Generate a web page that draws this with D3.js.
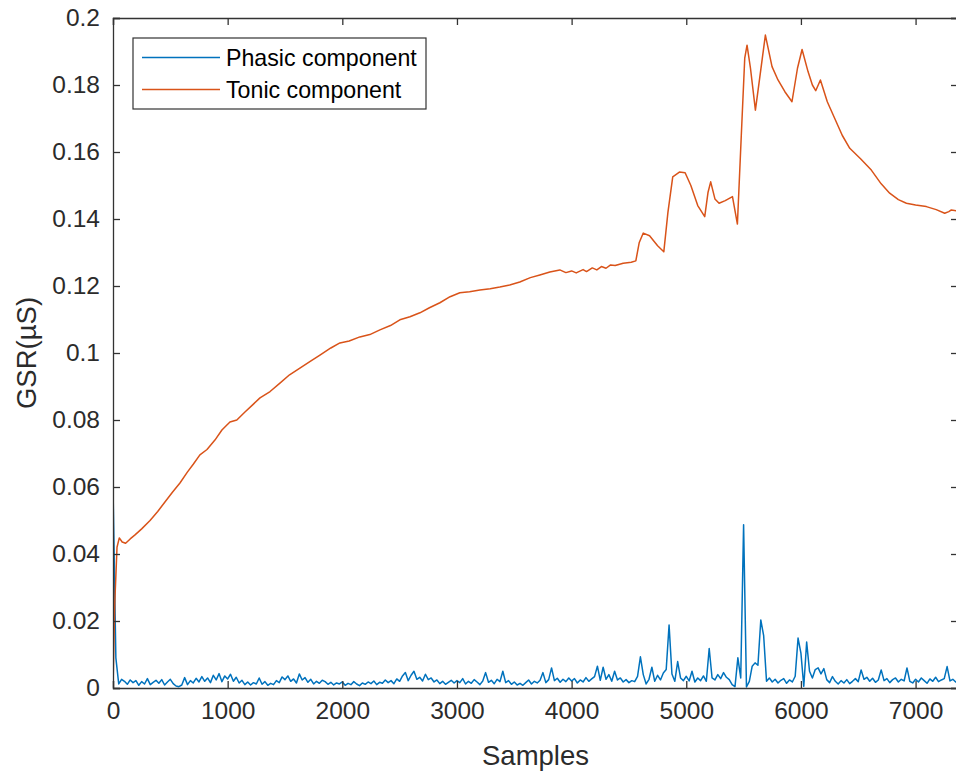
<!DOCTYPE html>
<html>
<head>
<meta charset="utf-8">
<script src="https://cdn.jsdelivr.net/npm/d3@7"></script>
<style>
  body { margin: 0; background: #fff; }
  svg { display: block; font-family: "Liberation Sans", Arial, sans-serif; }
</style>
</head>
<body>
<div id="chart"></div>
<script>
// phasic component, one value every 25 samples, in thousandths of a µS
const phasicStep = 25;
const phasicMilli = [
  60, 9, 1.2, 2.6, 2.0, 1.1, 2.4, 1.6, 2.2, 0.8, 1.9, 1.2, 2.8, 1.0, 1.7, 2.3, 1.4, 2.5, 0.9, 1.8,
  2.6, 1.3, 0.6, 0.4, 0.9, 3.1, 1.0, 2.2, 1.5, 2.9, 1.8, 3.4, 2.0, 3.0, 1.6, 3.8, 2.4, 4.3, 1.9, 3.6,
  2.7, 4.1, 2.0, 3.2, 1.5, 2.3, 1.0, 1.8, 0.9, 1.6, 1.2, 3.0, 1.1, 1.9, 0.8, 1.4, 1.0, 2.2, 1.6, 3.3,
  2.5, 3.6, 2.0, 2.7, 1.5, 4.2, 2.4, 3.1, 1.7, 2.6, 1.2, 2.0, 1.4, 2.3, 1.9, 1.1, 1.7, 0.9, 1.5, 1.2,
  1.8, 0.8, 1.4, 1.0, 1.9, 1.2, 0.7, 1.5, 1.1, 1.8, 1.3, 2.1, 1.0, 1.7, 1.4, 2.4, 1.6, 2.2, 1.3, 2.7,
  2.0, 3.6, 4.6, 2.2, 3.8, 5.0, 2.6, 3.2, 2.1, 4.1, 2.5, 3.0, 1.8, 2.4, 1.3, 2.0, 1.1, 1.7, 2.3, 1.5,
  2.2, 1.6, 2.8, 1.2, 2.0, 1.4, 2.5, 1.8, 1.0, 2.1, 4.6, 1.7, 2.3, 1.3, 2.6, 1.9, 5.0, 1.6, 2.2, 1.1,
  1.8, 0.9, 1.4, 0.8, 1.6, 2.4, 1.2, 2.0, 1.5, 2.3, 4.6, 1.6, 2.5, 6.0, 2.2, 2.9, 1.7, 2.6, 1.9, 3.0,
  2.1, 2.8, 1.5, 2.4, 1.8, 3.1, 2.0, 2.7, 3.4, 6.5, 2.3, 6.2, 2.6, 4.0, 2.0, 5.0, 2.4, 3.0, 1.8, 2.5,
  1.6, 2.2, 1.9, 3.5, 9.3, 4.0, 1.2, 2.6, 6.2, 2.0, 3.8, 2.4, 4.5, 5.5, 18.8, 4.2, 2.0, 7.9, 3.0, 2.2,
  3.5, 2.1, 5.0, 1.8, 3.0, 2.2, 3.6, 2.0, 11.8, 3.0, 2.4, 4.0, 2.8, 4.6, 3.2, 2.5, 1.0, 0.4, 9.0, 3.0,
  48.7, 0.3, 2.0, 6.5, 7.5, 6.8, 20.3, 15.6, 2.0, 3.0, 1.8, 2.6, 1.5, 2.3, 2.8, 1.4, 2.4, 1.8, 3.5, 14.9,
  10.4, 0.5, 13.7, 5.0, 3.0, 5.5, 6.0, 4.2, 5.8, 2.5, 1.6, 3.4, 2.0, 1.2, 2.2, 1.5, 2.5, 1.3, 2.0, 2.8,
  1.9, 5.4, 2.6, 3.2, 2.0, 2.9, 1.7, 2.4, 5.4, 2.2, 2.8, 1.6, 2.5, 3.0, 1.8, 2.6, 2.1, 6.0, 2.0, 1.5,
  2.6, 1.8, 3.0, 2.2, 1.4, 2.7, 2.0, 3.2, 1.9, 2.4, 2.8, 6.4, 2.1, 2.6, 1.8, 2.3
];

// tonic component, read at irregular sample positions
const tonicSamples = [
  0, 15, 35, 55, 80, 110, 150, 192, 250, 323, 390, 453, 520, 584, 650, 700, 758, 820, 889, 950,
  1020, 1080, 1151, 1220, 1282, 1370, 1456, 1540, 1630, 1720, 1805, 1900, 1979, 2060, 2153, 2240,
  2328, 2420, 2502, 2590, 2677, 2760, 2851, 2940, 3025, 3110, 3200, 3290, 3374, 3460, 3548, 3640,
  3723, 3810, 3897, 3950, 4000, 4040, 4100, 4130, 4180, 4220, 4260, 4300, 4340, 4380, 4450, 4520,
  4560, 4590, 4625, 4680, 4750, 4804, 4840, 4882, 4940, 4990, 5040, 5100, 5161, 5190, 5213, 5250,
  5286, 5340, 5403, 5446, 5480, 5510, 5530, 5560, 5603, 5640, 5690, 5748, 5800, 5860, 5922, 5970,
  6010, 6062, 6100, 6129, 6170, 6230, 6295, 6360, 6426, 6520, 6614, 6700, 6774, 6850, 6920, 7000,
  7094, 7180, 7254, 7290, 7312, 7370
];
const tonicValues = [
  0, 0.025, 0.042, 0.0448, 0.0436, 0.0432, 0.0445, 0.0457, 0.0475, 0.050, 0.0527, 0.0555, 0.0585, 0.0612, 0.0645, 0.0668, 0.0696, 0.0712, 0.0740, 0.0770,
  0.0794, 0.0800, 0.0824, 0.0846, 0.0866, 0.0885, 0.0910, 0.0935, 0.0955, 0.0975, 0.0994, 0.1015, 0.1030, 0.1036, 0.1048, 0.1055,
  0.1069, 0.1082, 0.1099, 0.1108, 0.1120, 0.1135, 0.1150, 0.1168, 0.1180, 0.1183, 0.1188, 0.1192, 0.1197, 0.1203, 0.1212, 0.1225,
  0.1233, 0.1242, 0.1248, 0.1240, 0.1245, 0.1239, 0.1249, 0.1243, 0.1254, 0.1248, 0.1258, 0.1253, 0.1263, 0.1261, 0.1268, 0.1271,
  0.1275, 0.1330, 0.1358, 0.1350, 0.1320, 0.1302, 0.1420, 0.1526, 0.1540, 0.1538, 0.1500, 0.1440, 0.1407, 0.1480, 0.1511, 0.1460,
  0.1447, 0.1455, 0.1467, 0.1385, 0.1650, 0.1880, 0.1919, 0.1850, 0.1725, 0.1820, 0.1949, 0.1855, 0.1815, 0.1780, 0.1750, 0.1850,
  0.1906, 0.1840, 0.1800, 0.1783, 0.1815, 0.1750, 0.1700, 0.1650, 0.1611, 0.1580, 0.1546, 0.1505, 0.1477, 0.1458, 0.1447, 0.1442,
  0.1437, 0.1428, 0.1417, 0.1422, 0.1427, 0.1424
];

const xTicks = [0, 1000, 2000, 3000, 4000, 5000, 6000, 7000];
const yTicks = [0, 0.02, 0.04, 0.06, 0.08, 0.1, 0.12, 0.14, 0.16, 0.18, 0.2];
const seriesNames = ["Phasic component", "Tonic component"];
const seriesColors = ["#0072BD", "#D95319"];

// svg set up
let svgWidth = 956;
let svgHeight = 776;
let margin = { top: 18, left: 113, right: -2, bottom: 88 };
let width = svgWidth - margin.left - margin.right;
let height = svgHeight - margin.top - margin.bottom;

let svg = d3.select("#chart")
    .append("svg")
    .attr("width", svgWidth)
    .attr("height", svgHeight);

let chartGroup = svg.append("g")
    .attr("transform", `translate(${margin.left},${margin.top})`);

// scales
let xScale = d3.scaleLinear().domain([0, 7370]).range([0, width]);
let yScale = d3.scaleLinear().domain([0, 0.2]).range([height, 0]);

// build the point lists from the arrays
let phasicData = phasicMilli.map((v, i) => ({ s: i * phasicStep, v: v / 1000 }));
let tonicData = tonicSamples.map((s, i) => ({ s: s, v: tonicValues[i] }));

chartGroup.append("clipPath").attr("id", "plotClip")
    .append("rect").attr("width", width).attr("height", height);

let line = d3.line().x(d => xScale(d.s)).y(d => yScale(d.v));

chartGroup.append("path")
    .datum(phasicData)
    .attr("clip-path", "url(#plotClip)")
    .attr("fill", "none")
    .attr("stroke", seriesColors[0])
    .attr("stroke-width", 1.5)
    .attr("stroke-linejoin", "round")
    .attr("d", line);

chartGroup.append("path")
    .datum(tonicData)
    .attr("clip-path", "url(#plotClip)")
    .attr("fill", "none")
    .attr("stroke", seriesColors[1])
    .attr("stroke-width", 1.5)
    .attr("stroke-linejoin", "round")
    .attr("d", line);

// axes (matlab style box, ticks inward)
const axisColor = "#333333";
const tickLen = 7;

let bottomAxis = d3.axisBottom(xScale).tickValues(xTicks).tickSize(-tickLen).tickPadding(14).tickFormat(d3.format("d"));
let topAxis = d3.axisTop(xScale).tickValues(xTicks).tickSize(-tickLen).tickFormat("");
let leftAxis = d3.axisLeft(yScale).tickValues(yTicks).tickSize(-tickLen).tickPadding(13).tickFormat(d => d === 0 ? "0" : String(+d.toFixed(2)));
let rightAxis = d3.axisRight(yScale).tickValues(yTicks).tickSize(-tickLen).tickFormat("");

function styleAxis(g) {
    g.selectAll(".domain").attr("stroke", axisColor).attr("stroke-width", 1.3);
    g.selectAll(".tick line").attr("stroke", axisColor).attr("stroke-width", 1.3);
    g.selectAll(".tick text")
        .attr("fill", "#2b2b2b")
        .style("font-size", "24.5px")
        .style("font-family", "'Liberation Sans', Arial, sans-serif");
}

chartGroup.append("g").attr("transform", `translate(0,${height})`).call(bottomAxis).call(styleAxis);
chartGroup.append("g").call(topAxis).call(styleAxis);
chartGroup.append("g").call(leftAxis).call(styleAxis);
chartGroup.append("g").attr("transform", `translate(${width},0)`).call(rightAxis).call(styleAxis);

// x axis label
chartGroup.append("text")
    .attr("x", width / 2)
    .attr("y", height + 77)
    .attr("text-anchor", "middle")
    .attr("fill", "#2b2b2b")
    .style("font-size", "27.5px")
    .text("Samples");

// y axis label
chartGroup.append("text")
    .attr("transform", "rotate(-90)")
    .attr("x", -height / 2)
    .attr("y", -77)
    .attr("text-anchor", "middle")
    .attr("fill", "#2b2b2b")
    .style("font-size", "27.5px")
    .text("GSR(µS)");

// legend
let legend = svg.append("g").attr("transform", "translate(133,38)");
legend.append("rect")
    .attr("width", 293)
    .attr("height", 71)
    .attr("fill", "#fff")
    .attr("stroke", axisColor)
    .attr("stroke-width", 1.2);

seriesNames.forEach((name, i) => {
    let yPos = 19.5 + i * 32;
    legend.append("line")
        .attr("x1", 9).attr("x2", 87)
        .attr("y1", yPos).attr("y2", yPos)
        .attr("stroke", seriesColors[i])
        .attr("stroke-width", 1.4);
    legend.append("text")
        .attr("x", 93)
        .attr("y", yPos + 8)
        .attr("fill", "#000")
        .style("font-size", "23.2px")
        .text(name);
});
</script>
</body>
</html>
